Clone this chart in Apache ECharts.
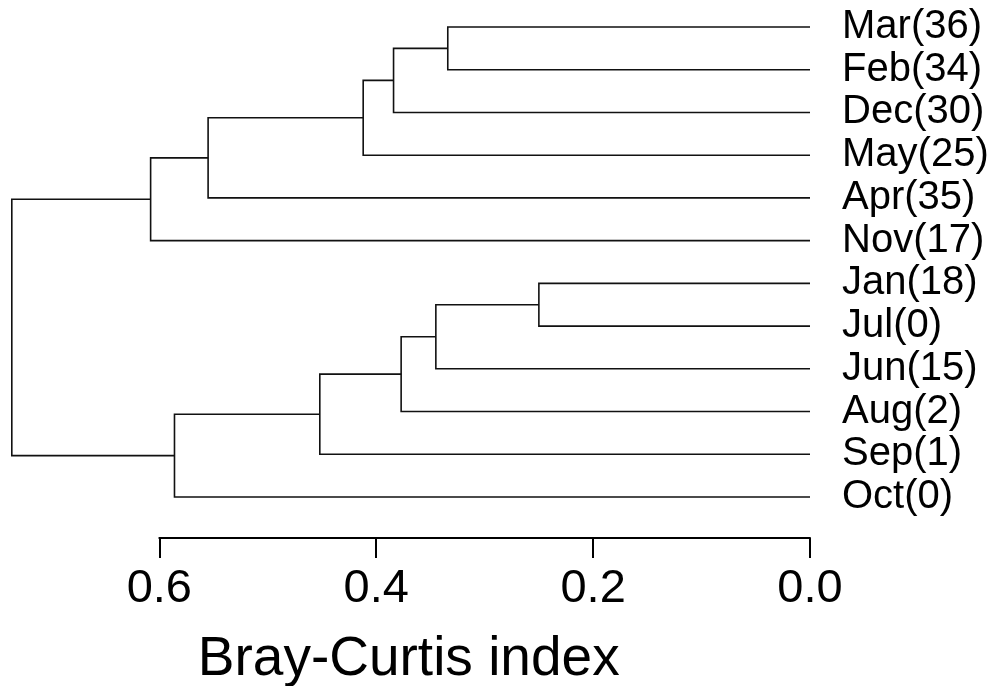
<!DOCTYPE html>
<html>
<head>
<meta charset="utf-8">
<title>Bray-Curtis dendrogram</title>
<script src="https://cdn.jsdelivr.net/npm/echarts@6/dist/echarts.min.js"></script>
<style>
  html, body { margin: 0; padding: 0; background: #fff; }
  #chart { width: 990px; height: 686px; }
</style>
</head>
<body>
<div id="chart"></div>
<script>
// Leaves, top to bottom
const leafLabels = ['Mar(36)', 'Feb(34)', 'Dec(30)', 'May(25)', 'Apr(35)', 'Nov(17)',
                    'Jan(18)', 'Jul(0)', 'Jun(15)', 'Aug(2)', 'Sep(1)', 'Oct(0)'];

// Agglomeration steps: each joins two members, a leaf label or an earlier step ('#k')
const mergeLeft   = ['Mar(36)', '#0', '#1', '#2', '#3', 'Jan(18)', '#5', '#6', '#7', '#8', '#4'];
const mergeRight  = ['Feb(34)', 'Dec(30)', 'May(25)', 'Apr(35)', 'Nov(17)', 'Jul(0)', 'Jun(15)', 'Aug(2)', 'Sep(1)', 'Oct(0)', '#9'];
const mergeHeight = [0.334, 0.384, 0.412, 0.555, 0.608, 0.250, 0.345, 0.377, 0.452, 0.586, 0.736];

// Axis tick values
const tickValues = [0.0, 0.2, 0.4, 0.6];

// Resolve a member to its vertical position (leaf index / midpoint) and height
function member(ref) {
  if (ref.charAt(0) === '#') {
    const k = +ref.slice(1);
    const a = member(mergeLeft[k]);
    const b = member(mergeRight[k]);
    return { y: (a.y + b.y) / 2, h: mergeHeight[k] };
  }
  return { y: leafLabels.indexOf(ref), h: 0 };
}

// One bracket per step: [height, yLeft, yRight, hLeft, hRight]
const brackets = mergeHeight.map(function (h, k) {
  const a = member(mergeLeft[k]);
  const b = member(mergeRight[k]);
  return [h, a.y, b.y, a.h, b.h];
});

const axisMax = 0.74;
const rightEdge = 810;
const scaleLeft = 159.3;
const pxPerUnit = (rightEdge - scaleLeft) / tickValues[tickValues.length - 1];
const treeLeft = rightEdge - axisMax * pxPerUnit;
const FONT = 'Liberation Sans, Arial, sans-serif';

const chart = echarts.init(document.getElementById('chart'), null, { renderer: 'canvas' });

chart.setOption({
  animation: false,
  backgroundColor: '#fff',
  textStyle: { fontFamily: FONT, color: '#000' },
  grid: [
    { left: treeLeft, right: 990 - rightEdge, top: 27, bottom: 686 - 497,
      containLabel: false, outerBoundsMode: 'none' },
    { left: scaleLeft, right: 990 - rightEdge, top: 537, bottom: 686 - 538,
      containLabel: false, outerBoundsMode: 'none' }
  ],
  xAxis: [
    {
      gridIndex: 0, type: 'value', inverse: true, min: 0, max: axisMax,
      axisLine: { show: false }, axisTick: { show: false },
      axisLabel: { show: false }, splitLine: { show: false },
      name: 'Bray-Curtis index', nameLocation: 'middle', nameGap: 135,
      nameTextStyle: { fontSize: 55, color: '#000', fontFamily: FONT }
    },
    {
      gridIndex: 1, type: 'value', inverse: true, min: 0,
      max: tickValues[tickValues.length - 1], interval: 0.2,
      axisLine: { show: true, lineStyle: { color: '#000', width: 2 } },
      axisTick: { show: true, length: 20, lineStyle: { color: '#000', width: 2 } },
      axisLabel: {
        show: true, fontSize: 47, color: '#000', margin: 28, fontFamily: FONT,
        formatter: function (v) { return v.toFixed(1); }
      },
      splitLine: { show: false }
    }
  ],
  yAxis: [
    {
      gridIndex: 0, type: 'value', inverse: true, position: 'right',
      min: 0, max: leafLabels.length - 1, interval: 1,
      axisLine: { show: false }, axisTick: { show: false }, splitLine: { show: false },
      axisLabel: {
        show: true, fontSize: 40, color: '#000', margin: 32, fontFamily: FONT,
        formatter: function (v) { return leafLabels[v] || ''; }
      }
    },
    { gridIndex: 1, type: 'value', show: false }
  ],
  series: [
    {
      type: 'custom',
      xAxisIndex: 0, yAxisIndex: 0,
      coordinateSystem: 'cartesian2d',
      encode: { x: [0, 3, 4], y: [1, 2] },
      data: brackets,
      renderItem: function (params, api) {
        const h = api.value(0), yA = api.value(1), yB = api.value(2);
        const hA = api.value(3), hB = api.value(4);
        return {
          type: 'polyline',
          shape: { points: [api.coord([hA, yA]), api.coord([h, yA]), api.coord([h, yB]), api.coord([hB, yB])] },
          style: { stroke: '#111', lineWidth: 1.6, fill: null }
        };
      }
    }
  ]
});
</script>
</body>
</html>
